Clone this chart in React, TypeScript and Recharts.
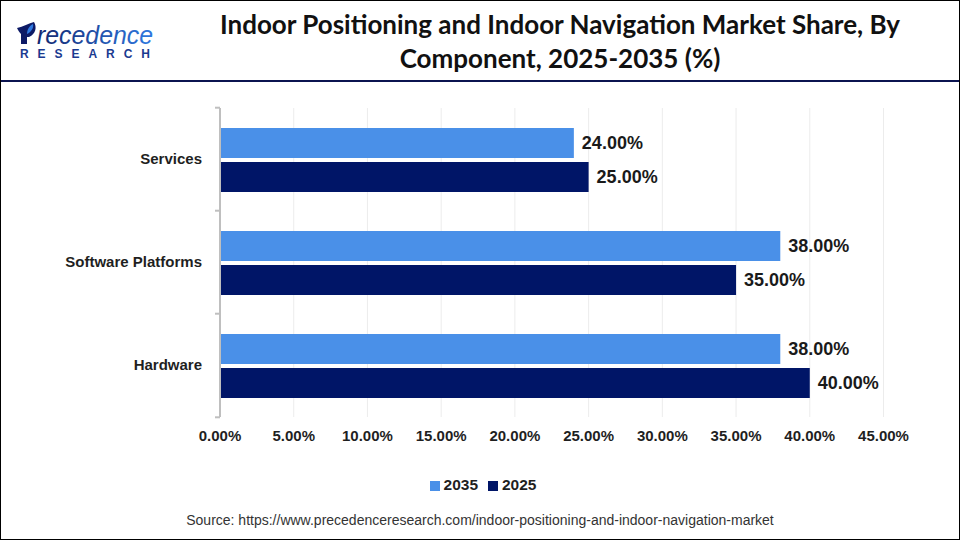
import React from "react";
import { BarChart, Bar, XAxis, YAxis, CartesianGrid, LabelList, Legend } from "recharts";

const categories = ["Services", "Software Platforms", "Hardware"];
const values2035 = [24, 38, 38];
const values2025 = [25, 35, 40];
const xTicks = [0, 5, 10, 15, 20, 25, 30, 35, 40, 45];

const data = categories.map((name, i) => ({
  name,
  y2035: values2035[i],
  y2025: values2025[i],
}));

const TICK_FONT = "'Liberation Sans', Arial, sans-serif";
const pct = (v: number) => `${v.toFixed(2)}%`;

// tick marks sit on the band edges, not the band centre
const CategoryTick = ({ x, y, payload, index }: any) => {
  const half = 51.8;
  return (
    <g>
      <line x1={x + 3} x2={x + 8} y1={y - half} y2={y - half} stroke="#bfbfbf" strokeWidth={2} />
      {index === categories.length - 1 && (
        <line x1={x + 3} x2={x + 8} y1={y + half} y2={y + half} stroke="#bfbfbf" strokeWidth={2} />
      )}
      <text x={x - 10} y={y + 4} textAnchor="end" fontFamily={TICK_FONT} fontWeight={700} fontSize={15} fill="#1f1f1f">
        {payload.value}
      </text>
    </g>
  );
};

const Logo = () => (
  <svg width={150} height={50} style={{ position: "absolute", left: 16, top: 14 }}>
    <defs>
      <linearGradient id="logoText" x1="0" x2="1" y1="0" y2="0">
        <stop offset="0%" stopColor="#13266f" />
        <stop offset="100%" stopColor="#2f78e0" />
      </linearGradient>
    </defs>
    <path d="M1 14 C7 13 13 9 18 8 C21 13 20 20 13 23 L11 23 L11 30 L5 30 L5 20 C3 18 2 16 1 14 Z" fill="#0d1a66" />
    <path d="M17 10 C18 14 15 18 11 20 C11 16 13 12 17 10 Z" fill="#2f78e0" />
    <text x={21} y={30} fontFamily="'Liberation Sans', sans-serif" fontStyle="italic" fontSize={26} fill="url(#logoText)" textLength={116} lengthAdjust="spacingAndGlyphs">
      recedence
    </text>
    <text x={4} y={44} fontFamily="'Liberation Sans', sans-serif" fontWeight={700} fontSize={12} fill="#1a3a90" textLength={130}>
      RESEARCH
    </text>
  </svg>
);

const App = () => (
  <div style={{ position: "absolute", left: 0, top: 0, width: 960, height: 540, background: "#fff", overflow: "hidden" }}>
    <div style={{ position: "absolute", inset: 0, border: "1px solid #000", boxSizing: "border-box" }} />
    <Logo />
    <div
      style={{
        position: "absolute",
        left: 170,
        top: 7,
        width: 780,
        textAlign: "center",
        fontFamily: "Lato, sans-serif",
        fontWeight: 700,
        fontSize: 26,
        lineHeight: "34px",
        color: "#111",
      }}
    >
      Indoor Positioning and Indoor Navigation Market Share, By
      <br />
      Component, 2025-2035 (%)
    </div>
    <div style={{ position: "absolute", left: 1, right: 1, top: 80, height: 2, background: "#0b1450" }} />
    <BarChart
      width={960}
      height={540}
      data={data}
      layout="vertical"
      barSize={30}
      barGap={4}
      margin={{ top: 108, right: 76.5, bottom: 75, left: 0 }}
      style={{ position: "absolute", left: 0, top: 0 }}
    >
      <CartesianGrid horizontal={false} stroke="#ececec" />
      <XAxis
        type="number"
        domain={[0, 45]}
        ticks={xTicks}
        tickFormatter={pct}
        axisLine={false}
        tickLine={false}
        tickMargin={7}
        height={30}
        tick={{ fontFamily: TICK_FONT, fontWeight: 700, fontSize: 15, fill: "#1f1f1f" }}
      />
      <YAxis
        type="category"
        dataKey="name"
        width={220}
        axisLine={{ stroke: "#bfbfbf", strokeWidth: 2 }}
        tickLine={false}
        tick={<CategoryTick />}
        interval={0}
      />
      <Legend
        iconType="square"
        iconSize={10}
        itemSorter={null}
        wrapperStyle={{ position: "absolute", left: 8, width: 960, top: 476, fontFamily: TICK_FONT, fontWeight: 700, fontSize: 15.5 }}
        formatter={(value) => <span style={{ color: "#1f1f1f" }}>{value}</span>}
      />
      <Bar dataKey="y2035" name="2035" fill="#4a90e8" isAnimationActive={false}>
        <LabelList dataKey="y2035" position="right" offset={8} formatter={pct} style={{ fontFamily: TICK_FONT, fontWeight: 700, fontSize: 18, fill: "#1a1a1a" }} />
      </Bar>
      <Bar dataKey="y2025" name="2025" fill="#001567" isAnimationActive={false}>
        <LabelList dataKey="y2025" position="right" offset={8} formatter={pct} style={{ fontFamily: TICK_FONT, fontWeight: 700, fontSize: 18, fill: "#1a1a1a" }} />
      </Bar>
    </BarChart>
    <div
      style={{
        position: "absolute",
        left: 0,
        width: 960,
        top: 512,
        textAlign: "center",
        fontFamily: TICK_FONT,
        fontSize: 14,
        color: "#333",
      }}
    >
      Source: https://www.precedenceresearch.com/indoor-positioning-and-indoor-navigation-market
    </div>
  </div>
);

export default App;
